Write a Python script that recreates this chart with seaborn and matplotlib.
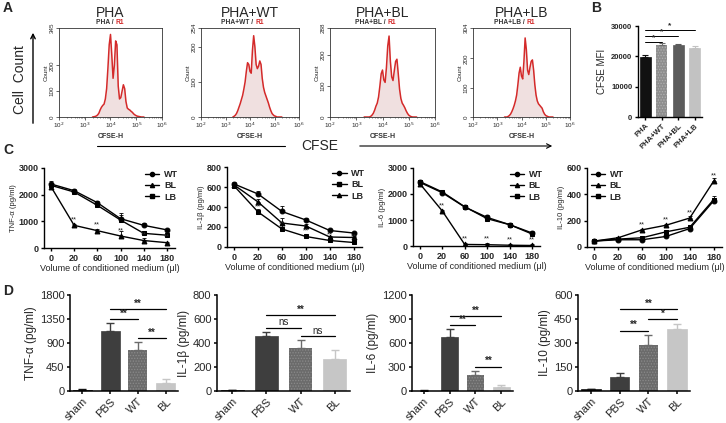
import numpy as np
import pandas as pd
import matplotlib
matplotlib.use("Agg")
import matplotlib.pyplot as plt
import seaborn as sns
from matplotlib.lines import Line2D

sns.set_theme(style="ticks")
plt.rcParams["font.family"] = ["Liberation Sans", "DejaVu Sans"]
plt.rcParams["hatch.linewidth"] = 0.6

# ---------------- data ----------------
# Panel A: CFSE histograms (log10 CFSE-H bin centres and counts)
hist_titles = ["PHA", "PHA+WT", "PHA+BL", "PHA+LB"]
hist_ymax = [345, 254, 288, 304]
cfse_log_bins = [3.30, 3.35, 3.40, 3.45, 3.50, 3.55, 3.60, 3.65, 3.70, 3.75,
                 3.80, 3.85, 3.90, 3.95, 4.00, 4.05, 4.10, 4.15, 4.20, 4.25,
                 4.30, 4.35, 4.40, 4.45, 4.50, 4.55, 4.60, 4.65, 4.70, 4.75,
                 4.80, 4.85, 4.90, 4.95, 5.00, 5.05, 5.10, 5.15, 5.20, 5.25, 5.30]
count_pha = [0, 1, 2, 4, 8, 15, 28, 38, 45, 50, 70, 110, 190, 280, 320, 240, 150, 200, 295, 280,
             120, 70, 75, 100, 125, 110, 60, 35, 30, 27, 22, 18, 12, 8, 5, 3, 2, 1, 0, 0, 0]
count_wt = [0, 2, 5, 10, 18, 28, 38, 50, 62, 80, 100, 130, 155, 150, 130, 125, 190, 232, 200, 150,
            138, 145, 160, 150, 110, 85, 70, 60, 50, 40, 28, 18, 10, 6, 3, 2, 0, 0, 0, 0, 0]
count_bl = [0, 0, 0, 0, 0, 2, 6, 12, 22, 35, 45, 65, 100, 140, 152, 120, 112, 160, 230, 262,
            180, 130, 118, 150, 180, 187, 140, 90, 60, 45, 38, 30, 20, 12, 6, 3, 1, 0, 0, 0, 0]
count_lb = [0, 0, 0, 2, 5, 10, 18, 28, 40, 55, 75, 110, 150, 170, 140, 130, 190, 270, 230, 160,
            145, 170, 190, 195, 160, 110, 75, 55, 45, 40, 35, 30, 18, 10, 5, 3, 1, 0, 0, 0, 0]
hist_counts = [count_pha, count_wt, count_bl, count_lb]

# Panel B: CFSE MFI
b_groups = ["PHA", "PHA+WT", "PHA+BL", "PHA+LB"]
b_mfi = [19800, 23700, 23600, 22900]
b_err = [500, 700, 600, 600]
b_sig = [(0, 1, "*"), (0, 2, "*"), (0, 3, "*")]
b_sig_y = [24800, 26700, 28700]

# Panel C: in-vitro cytokines vs volume of conditioned medium
c_volumes = ["0", "20", "60", "100", "140", "180"]
c_tnf_wt = [2400, 2150, 1700, 1100, 850, 680]
c_tnf_bl = [2300, 850, 650, 450, 280, 200]
c_tnf_lb = [2350, 2100, 1600, 1050, 550, 480]
c_tnf_err = [100, 60, 80, 200, 90, 40]
c_il1b_wt = [630, 530, 355, 270, 165, 140]
c_il1b_bl = [610, 350, 180, 105, 65, 45]
c_il1b_lb = [620, 450, 240, 210, 100, 95]
c_il1b_err = [25, 25, 50, 15, 12, 12]
c_il6_wt = [2450, 2050, 1500, 1100, 820, 500]
c_il6_bl = [2400, 1350, 60, 50, 30, 20]
c_il6_lb = [2480, 2080, 1510, 1050, 820, 460]
c_il6_err = [60, 50, 50, 80, 40, 60]
c_il10_wt = [45, 55, 55, 80, 140, 350]
c_il10_bl = [45, 70, 130, 165, 220, 500]
c_il10_lb = [45, 60, 70, 115, 150, 360]
c_il10_err = [5, 8, 10, 12, 15, 25]
c_tnf_stars_bl = ["", "**", "**", "**", "**", "**"]
c_il1b_stars_bl = ["", "**", "**", "**", "**", "**"]
c_il6_stars_bl = ["", "**", "**", "**", "**", "**"]
c_il10_stars_bl = ["", "", "**", "**", "**", "**"]

# Panel D: in-vivo cytokines
d_groups = ["sham", "PBS", "WT", "BL"]
d_tnf = [20, 1120, 760, 150]
d_tnf_err = [10, 150, 160, 70]
d_il1b = [5, 455, 355, 270]
d_il1b_err = [3, 40, 70, 75]
d_il6 = [5, 680, 200, 50]
d_il6_err = [3, 95, 45, 20]
d_il10 = [10, 90, 290, 385]
d_il10_err = [3, 20, 60, 35]
d_tnf_sig = [(1, 3, "**", 1540), (1, 2, "**", 1350), (2, 3, "**", 990)]
d_il1b_sig = [(1, 3, "**", 630), (1, 2, "ns", 527), (2, 3, "ns", 458)]
d_il6_sig = [(1, 3, "**", 937), (1, 2, "**", 825), (2, 3, "**", 304)]
d_il10_sig = [(1, 3, "**", 510), (2, 3, "*", 448), (1, 2, "**", 377)]

# ---------------- layout helpers ----------------
W, H = 726, 423
fig = plt.figure(figsize=(W / 100, H / 100), dpi=100)
fig.patch.set_facecolor("white")


def px(l, t, r, b):
    return [l / W, 1 - b / H, (r - l) / W, (b - t) / H]


def ftext(x, y, s, **kw):
    fig.text(x / W, 1 - y / H, s, **kw)


def style_axes(ax, lw=1.0, tick_size=6, bold=False):
    for sp in ["top", "right"]:
        ax.spines[sp].set_visible(False)
    for sp in ["left", "bottom"]:
        ax.spines[sp].set_linewidth(lw)
        ax.spines[sp].set_color("black")
    ax.tick_params(axis="both", direction="out", length=2.5, width=lw, color="black",
                   labelsize=tick_size, pad=1.5)
    if bold:
        for lab in ax.get_xticklabels() + ax.get_yticklabels():
            lab.set_fontweight("bold")
    ax.set_facecolor("white")
    ax.grid(False)


# ---------------- Panel A ----------------
red = "#d42a2a"
a_pos = [(59, 162), (201, 299), (330, 435), (473, 570)]
for i, (l, r) in enumerate(a_pos):
    ax = fig.add_axes(px(l, 28, r, 117))
    xs = 10 ** np.array(cfse_log_bins)
    ys = np.array(hist_counts[i], dtype=float)
    ax.fill_between(xs, ys, color="#f0e0e0", lw=0)
    sns.lineplot(x=xs, y=ys, color=red, lw=1.1, ax=ax)
    ax.plot([1e2, 1e6], [0, 0], color=red, lw=0.5)
    ax.set_xscale("log")
    ax.set_xlim(1e2, 1e6)
    ax.set_ylim(0, hist_ymax[i])
    ax.set_xticks([1e2, 1e3, 1e4, 1e5, 1e6])
    ax.set_xticklabels([r"10$^{2}$", r"10$^{3}$", r"10$^{4}$", r"10$^{5}$", r"10$^{6}$"])
    ax.set_yticks([0, 100, 200, hist_ymax[i]])
    ax.set_yticklabels(["0", "100", "200", str(hist_ymax[i])], rotation=90, va="center")
    for sp in ax.spines.values():
        sp.set_linewidth(0.6)
        sp.set_color("#333333")
    ax.tick_params(axis="both", direction="out", length=2, width=0.5, labelsize=4.5, pad=1)
    ax.tick_params(axis="x", which="minor", length=1, width=0.4)
    ax.set_facecolor("white")
    ax.grid(False)
    ax.set_ylabel("Count", fontsize=4.5, labelpad=1)
    ax.set_xlabel("CFSE-H", fontsize=5, fontweight="bold", color="#333333", labelpad=2)
    cx = (l + r) / 2
    ftext(cx, 13, hist_titles[i], fontsize=10, ha="center", va="center")
    ftext(cx + 5, 22, hist_titles[i] + " / ", fontsize=4.8, ha="right", va="center",
          fontweight="bold", color="#333333")
    ftext(cx + 5, 22, "R1", fontsize=4.8, ha="left", va="center", fontweight="bold", color=red)

# Cell count arrow and label
fig.add_artist(matplotlib.patches.FancyArrowPatch((33 / W, 1 - 126 / H), (33 / W, 1 - 30 / H),
                                                  transform=fig.transFigure, arrowstyle="->",
                                                  mutation_scale=8, lw=1.0, color="black"))
ftext(20, 80, "Cell  Count", fontsize=10, rotation=90, ha="center", va="center")
# CFSE arrow
fig.add_artist(Line2D([97 / W, 285 / W], [1 - 146 / H, 1 - 146 / H], transform=fig.transFigure,
                      color="black", lw=0.8))
fig.add_artist(matplotlib.patches.FancyArrowPatch((357 / W, 1 - 146 / H), (555 / W, 1 - 146 / H),
                                                  transform=fig.transFigure, arrowstyle="->",
                                                  mutation_scale=8, lw=0.8, color="black"))
ftext(320, 146, "CFSE", fontsize=10, ha="center", va="center")

# ---------------- Panel B ----------------
axb = fig.add_axes(px(638, 26, 702, 117))
bdf = pd.DataFrame({"group": b_groups, "mfi": b_mfi})
b_colors = ["#111111", "#8e8e8e", "#5c5c5c", "#c2c2c2"]
sns.barplot(data=bdf, x="group", y="mfi", hue="group", palette=b_colors, legend=False,
            errorbar=None, saturation=1, width=0.68, ax=axb)
for j, p in enumerate(axb.patches):
    p.set_edgecolor(b_colors[j])
    p.set_linewidth(0.5)
    if j == 1:
        p.set_hatch("......")
        p.set_edgecolor("#b0b0b0")
        p.set_linewidth(0)
for j in range(4):
    axb.errorbar(j, b_mfi[j], yerr=[[0], [b_err[j]]], fmt="none", ecolor=b_colors[j] if j != 1 else "#6f6f6f",
                 elinewidth=0.8, capsize=2, capthick=0.8)
axb.set_ylim(0, 30000)
axb.set_xlim(-0.45, 3.45)
axb.set_yticks([0, 10000, 20000, 30000])
style_axes(axb, lw=1.0, tick_size=5.5, bold=True)
axb.set_xticks(range(4))
axb.set_xticklabels(b_groups, rotation=45, ha="right", rotation_mode="anchor", fontsize=5.5,
                    fontweight="bold")
axb.set_xlabel("")
axb.set_ylabel("CFSE MFI", fontsize=7, labelpad=3)
for (a, b, s), yv in zip(b_sig, b_sig_y):
    axb.plot([a - 0.05, b], [yv, yv], color="black", lw=0.7, clip_on=False)
    axb.text((a + b) / 2, yv + 150, s, ha="center", va="bottom", fontsize=6, fontweight="bold")

# ---------------- Panel C ----------------
c_specs = [
    (px(44, 168, 175, 248), "TNF-α (pg/ml)", (c_tnf_wt, c_tnf_bl, c_tnf_lb), c_tnf_err,
     [0, 1000, 2000, 3000], c_tnf_stars_bl, "upper right", ["o", "^", "s"], (1.05, 1.02)),
    (px(227, 167, 362, 247), "IL-1β (pg/ml)", (c_il1b_wt, c_il1b_bl, c_il1b_lb), c_il1b_err,
     [0, 200, 400, 600, 800], c_il1b_stars_bl, "upper right", ["o", "s", "^"], (1.05, 1.02)),
    (px(413, 168, 540, 246), "IL-6 (pg/ml)", (c_il6_wt, c_il6_bl, c_il6_lb), c_il6_err,
     [0, 1000, 2000, 3000], c_il6_stars_bl, "upper right", ["o", "^", "s"], (1.05, 1.02)),
    (px(587, 168, 722, 247), "IL-10 (pg/ml)", (c_il10_wt, c_il10_bl, c_il10_lb), c_il10_err,
     [0, 200, 400, 600], c_il10_stars_bl, "upper left", ["o", "^", "s"], (0.0, 1.02)),
]
series_names = ["WT", "BL", "LB"]
for pos, ylab, series, err, yt, stars, loc, mk, anchor in c_specs:
    ax = fig.add_axes(pos)
    rows = []
    for name, vals in zip(series_names, series):
        for k, v in enumerate(vals):
            rows.append({"pos": k, "val": v, "series": name})
    cdf = pd.DataFrame(rows)
    sns.lineplot(data=cdf, x="pos", y="val", hue="series", style="series",
                 palette=["black"] * 3, markers=dict(zip(series_names, mk)), dashes=False,
                 markersize=3.5, lw=1.0, legend=False, ax=ax, markeredgecolor="black")
    for vals in series:
        ax.errorbar(range(6), vals, yerr=[np.zeros(6), err], fmt="none", ecolor="black",
                    elinewidth=0.6, capsize=1.5, capthick=0.6)
    for k, s in enumerate(stars):
        if s:
            ax.text(k, series[1][k] + yt[-1] * 0.025, s, ha="center", va="bottom", fontsize=5.5)
    ax.set_xlim(-0.3, 5.35)
    ax.set_ylim(0, yt[-1])
    ax.set_yticks(yt)
    ax.set_xticks(range(6))
    ax.set_xticklabels(c_volumes)
    style_axes(ax, lw=1.0, tick_size=6.5, bold=True)
    ax.set_xlabel("Volume of conditioned medium (μl)", fontsize=6.5, labelpad=1)
    ax.set_ylabel(ylab, fontsize=5.5, labelpad=1)
    handles = [Line2D([0], [0], color="black", marker=m, markersize=3, lw=1) for m in mk]
    ax.legend(handles, series_names, loc=loc, bbox_to_anchor=anchor, frameon=False,
              fontsize=6, handlelength=1.6, handletextpad=0.5, labelspacing=0.25,
              borderaxespad=0, prop={"weight": "bold", "size": 6.5})

# ---------------- Panel D ----------------
d_colors = ["#111111", "#3e3e3e", "#6b6b6b", "#c6c6c6"]
d_specs = [
    (px(70, 295, 178, 391), "TNF-α (pg/ml)", d_tnf, d_tnf_err, [0, 450, 900, 1350, 1800], d_tnf_sig),
    (px(217, 295, 350, 391), "IL-1β (pg/ml)", d_il1b, d_il1b_err, [0, 200, 400, 600, 800], d_il1b_sig),
    (px(412, 295, 513, 391), "IL-6 (pg/ml)", d_il6, d_il6_err, [0, 300, 600, 900, 1200], d_il6_sig),
    (px(578, 295, 690, 391), "IL-10 (pg/ml)", d_il10, d_il10_err, [0, 150, 300, 450, 600], d_il10_sig),
]
for pos, ylab, vals, errs, yt, sig in d_specs:
    ax = fig.add_axes(pos)
    ddf = pd.DataFrame({"group": d_groups, "value": vals})
    sns.barplot(data=ddf, x="group", y="value", hue="group", palette=d_colors, legend=False,
                errorbar=None, saturation=1, width=0.68, ax=ax)
    for j, p in enumerate(ax.patches):
        p.set_edgecolor(d_colors[j])
        p.set_linewidth(0.5)
        if j == 2:
            p.set_hatch("......")
            p.set_edgecolor("#8a8a8a")
            p.set_linewidth(0)
    for j in range(4):
        ax.errorbar(j, vals[j], yerr=[[0], [errs[j]]], fmt="none", ecolor=d_colors[j],
                    elinewidth=1.0, capsize=3, capthick=1.0)
    ax.set_ylim(0, yt[-1])
    ax.set_yticks(yt)
    ax.set_xlim(-0.45, 3.45)
    style_axes(ax, lw=1.1, tick_size=8)
    ax.set_xticks(range(4))
    ax.set_xticklabels(d_groups, rotation=45, ha="right", rotation_mode="anchor", fontsize=8)
    ax.set_xlabel("")
    ax.set_ylabel(ylab, fontsize=8.5, labelpad=2)
    for a, b, s, yv in sig:
        ax.plot([a, b], [yv, yv], color="black", lw=0.9)
        ax.text((a + b) / 2, yv + yt[-1] * 0.005, s, ha="center", va="bottom", fontsize=7,
                fontweight="bold" if s != "ns" else "normal")

# panel letters
ftext(3, 8, "A", fontsize=10, fontweight="bold", ha="left", va="center")
ftext(591, 8, "B", fontsize=10, fontweight="bold", ha="left", va="center")
ftext(3, 150, "C", fontsize=10, fontweight="bold", ha="left", va="center")
ftext(3, 291, "D", fontsize=10, fontweight="bold", ha="left", va="center")

fig.savefig("out.png", dpi=100, facecolor="white")
